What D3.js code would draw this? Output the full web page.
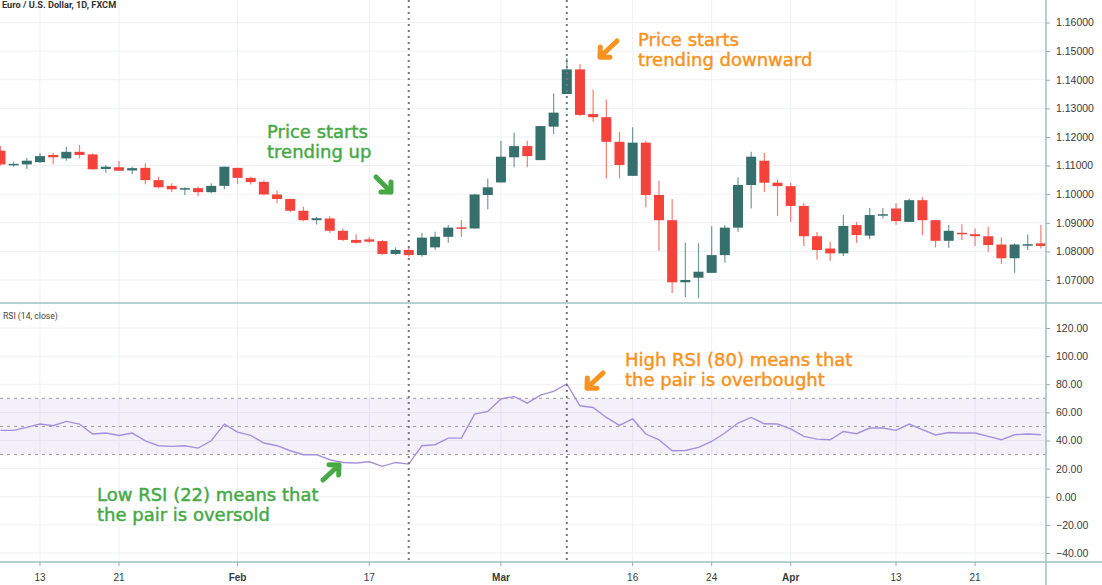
<!DOCTYPE html>
<html>
<head>
<meta charset="utf-8">
<script src="https://cdn.jsdelivr.net/npm/d3@7"></script>
<style>
  body { margin: 0; background: #fff; }
  svg { display: block; }
</style>
</head>
<body>
<div id="chart"></div>
<script>
// Données (EUR/USD, bougies journalières + RSI 14)
const firstDay = "2020-01-08", lastDay = "2020-04-28";

const open = [1.1152,1.1104,1.1104,1.1112,1.1137,1.1125,1.1148,1.1139,1.1088,1.1094,1.1083,1.1092,1.1049,1.1029,1.1020,1.1021,1.1007,1.1029,1.1092,1.1057,
  1.1043,1.0999,1.0983,1.0942,1.0909,1.0915,1.0872,1.0840,1.0842,1.0836,1.0791,1.0805,1.0787,1.0814,1.0851,1.0884,1.0880,1.0997,1.1041,1.1129,
  1.1168,1.1119,1.1236,1.1350,1.1436,1.1280,1.1269,1.1183,1.1064,1.1180,1.0997,1.0909,1.0692,1.0708,1.0725,1.0787,1.0883,1.1032,1.1117,1.1040,
  1.1028,1.0959,1.0853,1.0810,1.0793,1.0892,1.0855,1.0928,1.0950,1.0903,1.0979,1.0909,1.0837,1.0865,1.0860,1.0853,1.0824,1.0776,1.0823,1.0828];
const high = [1.1168,1.1113,1.1126,1.1144,1.1144,1.1165,1.1172,1.1142,1.1102,1.1116,1.1096,1.1108,1.1061,1.1038,1.1024,1.1026,1.1038,1.1096,1.1092,1.1061,
  1.1048,1.1014,1.0985,1.0956,1.0921,1.0923,1.0880,1.0860,1.0849,1.0840,1.0814,1.0814,1.0865,1.0869,1.0892,1.0909,1.1000,1.1055,1.1187,1.1215,
  1.1187,1.1239,1.1352,1.1476,1.1455,1.1366,1.1331,1.1218,1.1234,1.1187,1.1047,1.0982,1.0831,1.0828,1.0888,1.0892,1.1059,1.1148,1.1145,1.1052,
  1.1040,1.0968,1.0868,1.0834,1.0927,1.0903,1.0952,1.0952,1.0968,1.0985,1.0989,1.0909,1.0892,1.0895,1.0880,1.0886,1.0849,1.0828,1.0859,1.0892];
const low = [1.1100,1.1096,1.1088,1.1109,1.1105,1.1117,1.1125,1.1085,1.1075,1.1082,1.1070,1.1035,1.1020,1.1008,1.0997,1.0993,1.1003,1.1017,1.1035,1.1034,
  1.0995,1.0968,1.0938,1.0905,1.0894,1.0865,1.0836,1.0828,1.0830,1.0788,1.0787,1.0781,1.0781,1.0805,1.0830,1.0851,1.0879,1.0947,1.1041,1.1094,
  1.1094,1.1119,1.1210,1.1350,1.1273,1.1253,1.1055,1.1055,1.1064,1.0954,1.0802,1.0655,1.0641,1.0636,1.0725,1.0760,1.0869,1.0950,1.1008,1.0923,
  1.0903,1.0819,1.0772,1.0767,1.0784,1.0830,1.0842,1.0915,1.0893,1.0903,1.0857,1.0814,1.0813,1.0840,1.0819,1.0799,1.0756,1.0725,1.0805,1.0810];
const close = [1.1104,1.1106,1.1117,1.1133,1.1129,1.1148,1.1137,1.1087,1.1096,1.1082,1.1091,1.1049,1.1024,1.1017,1.1021,1.1007,1.1029,1.1096,1.1057,1.1042,
  1.0999,1.0983,1.0942,1.0909,1.0916,1.0872,1.0840,1.0830,1.0834,1.0791,1.0805,1.0787,1.0848,1.0851,1.0883,1.0883,1.0999,1.1024,1.1131,1.1168,
  1.1133,1.1238,1.1285,1.1436,1.1277,1.1269,1.1183,1.1102,1.1180,1.0997,1.0909,1.0692,1.0700,1.0729,1.0787,1.0883,1.1032,1.1131,1.1040,1.1028,
  1.0959,1.0853,1.0805,1.0793,1.0889,1.0857,1.0927,1.0930,1.0906,1.0979,1.0909,1.0837,1.0872,1.0861,1.0853,1.0822,1.0776,1.0824,1.0825,1.0819];
const rsi = [47.2,47.2,49.3,51.7,50.5,53.6,51.7,44.6,45.3,43.6,45.3,39.8,36.3,35.8,36.3,34.6,39.8,51.7,46.0,43.6,
  38.2,36.3,32.7,29.9,29.9,26.3,24.4,24.0,24.9,21.6,24.4,23.2,36.3,37.0,41.7,41.7,58.8,60.7,69.5,71.3,
  66.6,72.3,74.9,80.2,64.7,63.5,56.4,50.7,55.3,44.6,40.5,32.7,32.9,35.1,39.3,45.3,52.4,56.4,51.9,51.7,
  48.2,42.9,41.0,40.5,46.4,44.8,48.9,48.9,47.2,51.7,47.7,43.9,45.7,45.3,45.3,42.9,40.5,44.1,44.6,44.1];

const tickDays = ["2020-01-13","2020-01-21","2020-02-03","2020-02-17","2020-03-02","2020-03-16","2020-03-24","2020-04-01","2020-04-13","2020-04-21"];
const tickLabels = ["13","21","Feb","17","Mar","16","24","Apr","13","21"];
const priceTicks = [1.07,1.08,1.09,1.10,1.11,1.12,1.13,1.14,1.15,1.16];
const rsiTicks = [120,100,80,60,40,20,0,-20,-40];
const rsiLevels = [70,50,30];
const markerDays = ["2020-02-20","2020-03-09"];

// Dates ouvrées (le marché FX ne cote pas le week-end)
const parseDay = d3.timeParse("%Y-%m-%d");
const fmtDay = d3.timeFormat("%Y-%m-%d");
const days = d3.timeDays(parseDay(firstDay), d3.timeDay.offset(parseDay(lastDay), 1))
  .filter(d => d.getDay() !== 0 && d.getDay() !== 6)
  .map(fmtDay);
const candles = days.map((d, i) => ({ day: d, o: open[i], h: high[i], l: low[i], c: close[i], r: rsi[i] }));

const W = 1102, H = 585;
const axisX = 1046, sepY = 303, bottomY = 562;
const upColor = "#36706d", downColor = "#f4433b";
const green = "#46a946", orange = "#f7931e";
const gridColor = "#eef0f3", axisColor = "#9cc3c0";

const svg = d3.select("#chart").append("svg")
  .attr("width", W).attr("height", H)
  .style("font-family", "Roboto, 'Liberation Sans', sans-serif");

const x = d3.scaleBand().domain(days).range([-6.1, 1047.5]).padding(0);
const xc = d => x(d) + x.bandwidth() / 2;
const yPrice = d3.scaleLinear().domain([1.07, 1.16]).range([280, 22.5]);
const yRsi = d3.scaleLinear().domain([-40, 120]).range([553, 328]);

const defs = svg.append("defs");
defs.append("clipPath").attr("id", "clipPrice")
  .append("rect").attr("x", 0).attr("y", 0).attr("width", axisX).attr("height", sepY);
defs.append("clipPath").attr("id", "clipRsi")
  .append("rect").attr("x", 0).attr("y", sepY).attr("width", axisX).attr("height", bottomY - sepY);

// Grilles
const grid = svg.append("g");
grid.selectAll(".vgrid").data(tickDays).enter().append("line")
  .attr("x1", d => xc(d)).attr("x2", d => xc(d))
  .attr("y1", 0).attr("y2", bottomY)
  .attr("stroke", gridColor).attr("stroke-width", 1);
grid.selectAll(".pgrid").data(priceTicks).enter().append("line")
  .attr("x1", 0).attr("x2", axisX)
  .attr("y1", d => yPrice(d)).attr("y2", d => yPrice(d))
  .attr("stroke", gridColor);
grid.selectAll(".rgrid").data(rsiTicks).enter().append("line")
  .attr("x1", 0).attr("x2", axisX)
  .attr("y1", d => yRsi(d)).attr("y2", d => yRsi(d))
  .attr("stroke", gridColor);

// Bougies
const price = svg.append("g").attr("clip-path", "url(#clipPrice)");
const bodyW = x.bandwidth() * 0.76;
const candle = price.selectAll(".candle").data(candles).enter().append("g");
candle.append("line")
  .attr("x1", d => xc(d.day)).attr("x2", d => xc(d.day))
  .attr("y1", d => yPrice(d.h)).attr("y2", d => yPrice(d.l))
  .attr("stroke", d => d.c >= d.o ? upColor : downColor)
  .attr("stroke-opacity", 0.7)
  .attr("stroke-width", 1.2);
candle.append("rect")
  .attr("x", d => xc(d.day) - bodyW / 2)
  .attr("width", bodyW)
  .attr("y", d => yPrice(Math.max(d.o, d.c)))
  .attr("height", d => Math.max(1.5, Math.abs(yPrice(d.o) - yPrice(d.c))))
  .attr("fill", d => d.c >= d.o ? upColor : downColor);

// RSI
const rsiG = svg.append("g").attr("clip-path", "url(#clipRsi)");
rsiG.append("rect")
  .attr("x", 0).attr("width", axisX)
  .attr("y", yRsi(70)).attr("height", yRsi(30) - yRsi(70))
  .attr("fill", "#7e57c2").attr("fill-opacity", 0.09);
rsiG.selectAll(".level").data(rsiLevels).enter().append("line")
  .attr("x1", 0).attr("x2", axisX)
  .attr("y1", d => yRsi(d)).attr("y2", d => yRsi(d))
  .attr("stroke", "#999").attr("stroke-dasharray", "3,4").attr("stroke-width", 1);
rsiG.append("path")
  .datum(candles)
  .attr("fill", "none")
  .attr("stroke", "#a590dc")
  .attr("stroke-width", 1.4)
  .attr("d", d3.line().x(d => xc(d.day)).y(d => yRsi(d.r)));

// Lignes verticales pointillées
svg.selectAll(".marker").data(markerDays).enter().append("line")
  .attr("x1", d => xc(d)).attr("x2", d => xc(d))
  .attr("y1", 0).attr("y2", bottomY)
  .attr("stroke", "#777").attr("stroke-width", 2).attr("stroke-dasharray", "2,4");

// Séparateurs et axes
svg.append("line").attr("x1", 0).attr("x2", W).attr("y1", sepY).attr("y2", sepY)
  .attr("stroke", axisColor).attr("stroke-width", 1.5);
svg.append("line").attr("x1", 0).attr("x2", W).attr("y1", bottomY).attr("y2", bottomY)
  .attr("stroke", axisColor).attr("stroke-width", 1.5);
svg.append("line").attr("x1", axisX).attr("x2", axisX).attr("y1", 0).attr("y2", H)
  .attr("stroke", axisColor).attr("stroke-width", 1.5);

function styleAxis(g) {
  g.select(".domain").remove();
  g.selectAll(".tick line").attr("stroke", "#9aa");
  g.selectAll(".tick text").attr("fill", "#3a3a3a").style("font-size", "10.5px");
}

svg.append("g")
  .attr("transform", `translate(${axisX},0)`)
  .call(d3.axisRight(yPrice).tickValues(priceTicks).tickFormat(d3.format(".5f")).tickSize(4).tickPadding(6))
  .call(styleAxis);

svg.append("g")
  .attr("transform", `translate(${axisX},0)`)
  .call(d3.axisRight(yRsi).tickValues(rsiTicks).tickFormat(d3.format(".2f")).tickSize(4).tickPadding(6))
  .call(styleAxis);

const xAxis = svg.append("g")
  .attr("transform", `translate(0,${bottomY})`)
  .call(d3.axisBottom(x).tickValues(tickDays).tickFormat((d, i) => tickLabels[i]).tickSize(4).tickPadding(8))
  .call(styleAxis);
xAxis.selectAll(".tick text")
  .style("font-size", "10px")
  .style("font-weight", (d, i) => isNaN(+tickLabels[i]) ? "bold" : "normal");

// Titres des panneaux
svg.append("text").attr("x", 2).attr("y", 8)
  .style("font-size", "9.2px").style("font-weight", "bold").attr("fill", "#333")
  .text("Euro / U.S. Dollar, 1D, FXCM");
svg.append("text").attr("x", 3).attr("y", 319)
  .style("font-size", "8.6px").attr("fill", "#444")
  .text("RSI (14, close)");

// Annotations
function arrow(x1, y1, x2, y2, color) {
  const a = Math.atan2(y2 - y1, x2 - x1), h = 10, s = Math.PI / 4;
  const p = d3.path();
  p.moveTo(x1, y1); p.lineTo(x2, y2);
  p.moveTo(x2 - h * Math.cos(a - s), y2 - h * Math.sin(a - s));
  p.lineTo(x2, y2);
  p.lineTo(x2 - h * Math.cos(a + s), y2 - h * Math.sin(a + s));
  svg.append("path").attr("d", p.toString())
    .attr("fill", "none").attr("stroke", color).attr("stroke-width", 5)
    .attr("stroke-linecap", "round").attr("stroke-linejoin", "round");
}

function note(xp, yp, lines, color) {
  const t = svg.append("text").attr("x", xp).attr("y", yp)
    .attr("fill", color).attr("stroke", color).attr("stroke-width", 0.45)
    .style("font-family", "'DejaVu Sans', sans-serif").style("font-size", "18px");
  lines.forEach((l, i) => t.append("tspan").attr("x", xp).attr("dy", i ? 19.5 : 0).text(l));
}

note(267, 138, ["Price starts", "trending up"], green);
arrow(376, 177, 391, 192, green);
note(638, 46, ["Price starts", "trending downward"], orange);
arrow(617, 41, 600, 57, orange);
note(625, 366, ["High RSI (80) means that", "the pair is overbought"], orange);
arrow(603, 373, 587, 388, orange);
note(97, 501, ["Low RSI (22) means that", "the pair is oversold"], green);
arrow(323, 480, 339, 465, green);
</script>
</body>
</html>
